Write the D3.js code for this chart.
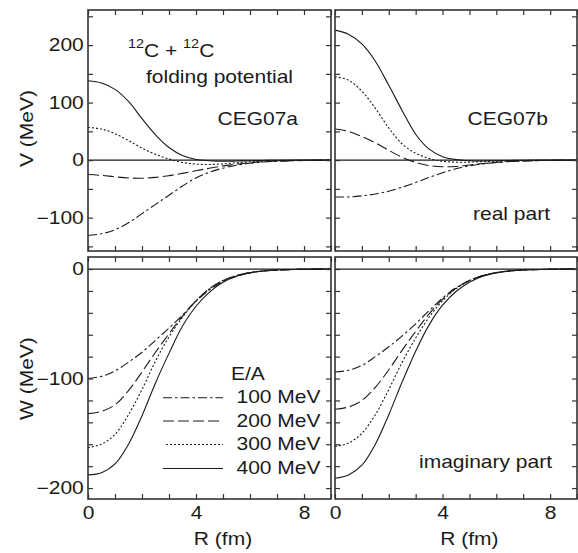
<!DOCTYPE html>
<html><head><meta charset="utf-8">
<script src="https://cdn.jsdelivr.net/npm/d3@7"></script>
<style>body{margin:0;background:#fff}svg{display:block}text{font-family:"Liberation Sans",Arial,Helvetica,sans-serif;fill:#1a1a1a}</style>
</head><body><svg id="c" width="578" height="553"></svg>
<script>
// ---- data ----
const R = [0,0.5,1,1.5,2,2.5,3,3.5,4,4.5,5,5.5,6,6.5,7,8,9];
const energies = ["100 MeV","200 MeV","300 MeV","400 MeV"];
// real part, CEG07a
const V_a_100 = [-131,-128,-121,-109,-93,-77,-61,-45,-31,-21,-14,-9,-5.5,-3.3,-2,-0.7,-0.2];
const V_a_200 = [-25,-26.5,-29,-31,-31.5,-30,-27,-23,-18.5,-14,-10,-7,-4.5,-2.8,-1.6,-0.5,-0.1];
const V_a_300 = [57,54,46,34,21,10,2,-4,-7,-7.5,-6.5,-4.5,-3,-1.8,-1,-0.3,0];
const V_a_400 = [138,134,123,102,72,44,22,8,1,-1,-2,-1.5,-1,-0.6,-0.3,0,0];
// real part, CEG07b
const V_b_100 = [-64,-64,-62,-59,-54,-47,-39,-30,-22,-15,-10,-6.5,-4,-2.5,-1.5,-0.5,-0.1];
const V_b_200 = [54,50,41,30,17,5,-4,-9.5,-11.5,-11,-8.5,-6,-4,-2.5,-1.5,-0.5,-0.1];
const V_b_300 = [145,139,120,90,56,28,12,3,-2,-3.5,-3.5,-2.5,-1.7,-1.1,-0.6,-0.2,0];
const V_b_400 = [226,219,202,172,130,86,45,19,6,1,-1,-1.5,-1,-0.6,-0.3,0,0];
// imaginary part, CEG07a
const W_a_100 = [-100,-98,-93,-85,-76,-65,-54,-42,-29.5,-19,-11.5,-6.5,-3.5,-1.8,-0.9,-0.2,0];
const W_a_200 = [-132,-130,-124,-111,-94,-76,-59,-43,-29,-18,-10.5,-6,-3.2,-1.7,-0.9,-0.2,0];
const W_a_300 = [-163,-160,-151,-133,-110,-84,-62,-44,-29,-18,-10.5,-6,-3.2,-1.7,-0.9,-0.2,0];
const W_a_400 = [-188,-186,-178,-160,-134,-104,-77,-52,-34,-21,-12,-6.5,-3.5,-1.8,-0.9,-0.2,0];
// imaginary part, CEG07b
const W_b_100 = [-94,-92.5,-88,-80,-71,-61,-50,-38,-26.5,-17,-10.5,-6,-3.3,-1.7,-0.9,-0.2,0];
const W_b_200 = [-128,-126,-120,-108,-92,-74,-57,-41,-27.5,-17.5,-10.5,-6,-3.2,-1.7,-0.9,-0.2,0];
const W_b_300 = [-162,-159,-150,-133,-110,-85,-63,-44,-29,-18,-10.5,-6,-3.2,-1.7,-0.9,-0.2,0];
const W_b_400 = [-191,-188,-179,-160,-133,-103,-75,-51,-33,-20.5,-12,-6.5,-3.5,-1.8,-0.9,-0.2,0];

const xTicks = [0,1,2,3,4,5,6,7,8,9];
const xLabels = [0,4,8];
const vTicks = [-150,-100,-50,0,50,100,150,200,250];
const vLabels = [-100,0,100,200];
const wTicks = [-200,-180,-160,-140,-120,-100,-80,-60,-40,-20,0];
const wLabels = [-200,-100,0];

// ---- layout ----
const svg = d3.select("#c");
const SX = 1.2, FS = 17.5;
const dashes = ["9,3,2.5,3","11,4","2,2",null];
const colL = [88,331], colR = [335,577];
const rowT = [251,10], rowB = [499,257];
const yV = d3.scaleLinear().domain([-158,261]).range(rowT);
const yW = d3.scaleLinear().domain([-210,11]).range(rowB);
const fmt = d3.format("d");

function panel(xr, ys, ticks, labels, series, showYLab, showXLab){
  const x = d3.scaleLinear().domain([0,9]).range(xr);
  const g = svg.append("g");
  const y0 = ys.range()[0], y1 = ys.range()[1];
  g.append("line").attr("x1",xr[0]).attr("x2",xr[1]).attr("y1",ys(0)).attr("y2",ys(0))
    .attr("stroke","#1a1a1a").attr("stroke-width",1.2);
  const line = d3.line().x((d,i)=>x(R[i])).y(d=>ys(d)).curve(d3.curveCatmullRom.alpha(0.5));
  series.forEach((s,k)=>{
    g.append("path").attr("d",line(s)).attr("fill","none").attr("stroke","#1a1a1a")
      .attr("stroke-width",1.1).attr("stroke-dasharray",dashes[k]);
  });
  const ax = [
    g.append("g").attr("transform",`translate(${xr[0]},0)`).call(d3.axisLeft(ys).tickValues(ticks).tickSizeInner(-5).tickSizeOuter(0).tickPadding(3.5)
      .tickFormat(d=> showYLab && labels.includes(d) ? fmt(d) : "")),
    g.append("g").attr("transform",`translate(${xr[1]},0)`).call(d3.axisRight(ys).tickValues(ticks).tickSizeInner(-5).tickSizeOuter(0).tickFormat("")),
    g.append("g").attr("transform",`translate(0,${y1})`).call(d3.axisTop(x).tickValues(xTicks).tickSizeInner(-5).tickSizeOuter(0).tickFormat("")),
    g.append("g").attr("transform",`translate(0,${y0})`).call(d3.axisBottom(x).tickValues(xTicks).tickSizeInner(-5).tickSizeOuter(0).tickPadding(7.5)
      .tickFormat(d=> showXLab && xLabels.includes(d) ? fmt(d) : ""))
  ];
  ax.forEach(a=>{
    a.select(".domain").remove();
    a.selectAll(".tick line").attr("stroke","#333").attr("stroke-width",1.2);
    a.selectAll(".tick text").attr("font-size",FS).attr("font-family","Liberation Sans, Arial, sans-serif")
      .attr("fill","#1a1a1a").attr("transform",`scale(${SX},1)`);
  });
  g.append("rect").attr("x",xr[0]).attr("y",y1).attr("width",xr[1]-xr[0]).attr("height",y0-y1)
    .attr("fill","none").attr("stroke","#333").attr("stroke-width",1.6);
  return x;
}

panel(colL, yV, vTicks, vLabels, [V_a_100,V_a_200,V_a_300,V_a_400], true, false);
panel(colR, yV, vTicks, vLabels, [V_b_100,V_b_200,V_b_300,V_b_400], false, false);
const xBL = panel(colL, yW, wTicks, wLabels, [W_a_100,W_a_200,W_a_300,W_a_400], true, true);
const xBR = panel(colR, yW, wTicks, wLabels, [W_b_100,W_b_200,W_b_300,W_b_400], false, true);

function txt(x,y,s,anchor,size){
  return svg.append("text").attr("transform",`translate(${x},${y}) scale(${SX},1)`)
    .attr("text-anchor",anchor||"start").attr("font-size",size||FS).text(s);
}
txt(xBL(5),545,"R (fm)","middle");
txt(xBR(5),545,"R (fm)","middle");
svg.append("text").attr("transform",`translate(27,${yV(55)}) rotate(-90) scale(${SX},1)`)
  .attr("text-anchor","middle").attr("dominant-baseline","central").attr("font-size",FS).text("V (MeV)");
svg.append("text").attr("transform",`translate(27,${yW(-100)}) rotate(-90) scale(${SX},1)`)
  .attr("text-anchor","middle").attr("dominant-baseline","central").attr("font-size",FS).text("W (MeV)");

const t1 = txt(128,56.5,"","start");
t1.append("tspan").attr("font-size",12).attr("dy",-9).text("12");
t1.append("tspan").attr("dy",9).text("C + ");
t1.append("tspan").attr("font-size",12).attr("dy",-9).text("12");
t1.append("tspan").attr("dy",9).text("C");
txt(146,82.5,"folding potential","start");
txt(298,125,"CEG07a","end");
txt(548,125,"CEG07b","end");
txt(550,220,"real part","end");
txt(552,468,"imaginary part","end");

txt(231,380,"E/A","start");
const legY = [397.7,421,444.5,468.5];
energies.forEach((e,k)=>{
  svg.append("line").attr("x1",k===2?166:163).attr("x2",223).attr("y1",legY[k]).attr("y2",legY[k])
    .attr("stroke","#1a1a1a").attr("stroke-width",1.1).attr("stroke-dasharray",dashes[k]);
  txt(236.5,legY[k]+5.5,e,"start");
});
</script></body></html>
